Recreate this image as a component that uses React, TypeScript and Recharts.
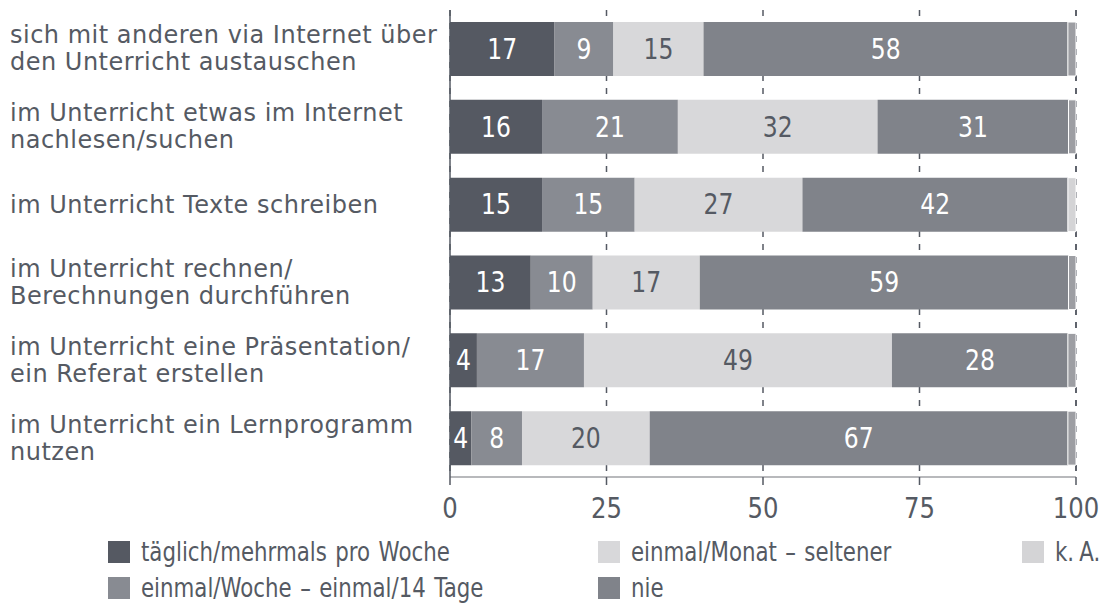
import { BarChart, Bar, XAxis, YAxis, CartesianGrid, LabelList, Cell } from 'recharts'

const categories = [
  'sich mit anderen via Internet über\nden Unterricht austauschen',
  'im Unterricht etwas im Internet\nnachlesen/suchen',
  'im Unterricht Texte schreiben',
  'im Unterricht rechnen/\nBerechnungen durchführen',
  'im Unterricht eine Präsentation/\nein Referat erstellen',
  'im Unterricht ein Lernprogramm\nnutzen',
]

// bar lengths as measured, printed numbers as shown in the bars
const taeglich = [16.7, 14.7, 14.7, 12.9, 4.3, 3.4]
const woche = [9.4, 21.7, 14.8, 9.9, 17.1, 8.1]
const monat = [14.4, 31.9, 26.8, 17.1, 49.2, 20.4]
const nie = [58.2, 30.5, 42.4, 58.9, 28.1, 66.8]
const ka = [1.3, 1.2, 1.3, 1.2, 1.3, 1.3]

const taeglichLabel = [17, 16, 15, 13, 4, 4]
const wocheLabel = [9, 21, 15, 10, 17, 8]
const monatLabel = [15, 32, 27, 17, 49, 20]
const nieLabel = [58, 31, 42, 59, 28, 67]

const xTicks = [0, 25, 50, 75, 100]

const data = categories.map((name, i) => ({
  name,
  t: taeglich[i],
  w: woche[i],
  m: monat[i],
  n: nie[i],
  k: ka[i],
  tL: taeglichLabel[i],
  wL: wocheLabel[i],
  mL: monatLabel[i],
  nL: nieLabel[i],
}))

const TEXT = '#555a63'
const FONT = '"DejaVu Sans", sans-serif'
const SQUEEZE = 0.84 // reference uses a condensed face
const C_T = '#555962'
const C_W = '#888b92'
const C_M = '#d8d8da'
const C_N = '#80838a'
const C_K = '#9d9ea3'
const C_K_LEGEND = '#d4d4d6'

const legendItems = [
  { label: 'täglich/mehrmals pro Woche', color: C_T, x: 108, row: 0 },
  { label: 'einmal/Woche – einmal/14 Tage', color: C_W, x: 108, row: 1 },
  { label: 'einmal/Monat – seltener', color: C_M, x: 598, row: 0 },
  { label: 'nie', color: C_N, x: 598, row: 1 },
  { label: 'k. A.', color: C_K_LEGEND, x: 1022, row: 0 },
]

function NarrowText({ cx, cy, fill, size, children }: any) {
  return (
    <text
      transform={`translate(${cx},${cy}) scale(${SQUEEZE},1)`}
      x={0}
      y={0}
      textAnchor="middle"
      dominantBaseline="central"
      fill={fill}
      fontFamily={FONT}
      fontSize={size}
    >
      {children}
    </text>
  )
}

function makeLabel(fill: string) {
  return (props: any) => {
    const { x, y, width, height, value } = props
    return (
      <NarrowText cx={x + width / 2} cy={y + height / 2} fill={fill} size={28}>
        {value}
      </NarrowText>
    )
  }
}

function ValueTick({ x, y, payload }: any) {
  return (
    <NarrowText cx={x} cy={y + 16} fill={TEXT} size={29}>
      {payload.value}
    </NarrowText>
  )
}

function CategoryTick({ y, payload }: any) {
  const lines = String(payload.value).split('\n')
  const lh = 27
  const start = y - ((lines.length - 1) * lh) / 2
  return (
    <text fill={TEXT} fontFamily={FONT} fontSize={24} letterSpacing={0.5}>
      {lines.map((l, i) => (
        <tspan key={i} x={10} y={start + i * lh} dominantBaseline="central">
          {l}
        </tspan>
      ))}
    </text>
  )
}

export default function App() {
  return (
    <div style={{ position: 'absolute', left: 0, top: 0, width: 1104, height: 605, background: '#fff', overflow: 'hidden' }}>
      <BarChart
        width={1104}
        height={530}
        data={data}
        layout="vertical"
        margin={{ top: 10, right: 28, bottom: 0, left: 0 }}
      >
        <CartesianGrid horizontal={false} stroke={TEXT} strokeWidth={1.5} strokeDasharray="6 7" />
        <XAxis
          type="number"
          domain={[0, 100]}
          ticks={xTicks}
          height={53}
          axisLine={{ stroke: '#a0a2a6', strokeWidth: 1.5 }}
          tickLine={{ stroke: TEXT, strokeWidth: 1.5, strokeDasharray: '0 5 6' }}
          tickSize={13}
          tick={<ValueTick />}
        />
        <YAxis
          type="category"
          dataKey="name"
          width={450}
          axisLine={{ stroke: TEXT, strokeWidth: 1.5 }}
          tickLine={false}
          tick={<CategoryTick />}
        />
        <Bar dataKey="t" stackId="a" fill={C_T} barSize={54} isAnimationActive={false}>
          <LabelList dataKey="tL" content={makeLabel('#fff')} />
        </Bar>
        <Bar dataKey="w" stackId="a" fill={C_W} barSize={54} isAnimationActive={false}>
          <LabelList dataKey="wL" content={makeLabel('#fff')} />
        </Bar>
        <Bar dataKey="m" stackId="a" fill={C_M} barSize={54} isAnimationActive={false}>
          <LabelList dataKey="mL" content={makeLabel(TEXT)} />
        </Bar>
        <Bar dataKey="n" stackId="a" fill={C_N} barSize={54} isAnimationActive={false}>
          <LabelList dataKey="nL" content={makeLabel('#fff')} />
        </Bar>
        <Bar dataKey="k" stackId="a" fill={C_K} stroke="#fff" strokeWidth={1} barSize={54} isAnimationActive={false}>
          {data.map((_, i) => (
            <Cell key={i} fill={i === 2 ? C_K_LEGEND : C_K} />
          ))}
        </Bar>
      </BarChart>
      {legendItems.map((it) => (
        <div
          key={it.label}
          style={{
            position: 'absolute',
            left: it.x,
            top: 541 + it.row * 36,
            height: 22,
            display: 'flex',
            alignItems: 'center',
            fontFamily: FONT,
            fontSize: 26,
            color: TEXT,
            whiteSpace: 'nowrap',
            wordSpacing: it.label === 'k. A.' ? -2 : 2,
          }}
        >
          <span style={{ display: 'inline-block', width: 22, height: 22, background: it.color, marginRight: 11, flex: 'none' }} />
          <span style={{ display: 'inline-block', transform: 'scaleX(0.82)', transformOrigin: 'left center' }}>
            {it.label}
          </span>
        </div>
      ))}
    </div>
  )
}
